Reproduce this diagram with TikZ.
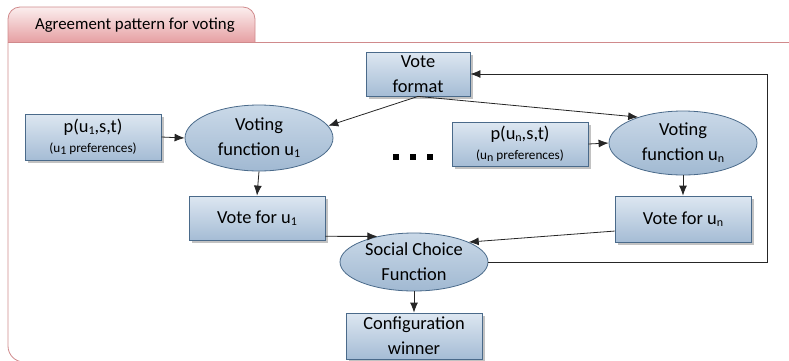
\documentclass[tikz,border=0pt]{standalone}
\usepackage{fontspec}
\setmainfont{Carlito}
\usetikzlibrary{arrows.meta,shadows,shapes.geometric}

\definecolor{frameline}{HTML}{D08A8C}
\definecolor{tabtop}{HTML}{FBEEEE}
\definecolor{tabbot}{HTML}{E6A0A3}
\definecolor{boxtop}{HTML}{DDE7F1}
\definecolor{boxbot}{HTML}{A5BCD5}
\definecolor{boxline}{HTML}{4A6A8A}
\definecolor{ovaltop}{HTML}{CAD9E8}
\definecolor{ovalbot}{HTML}{A1B9D2}

\tikzset{
  box/.style={draw=boxline, top color=boxtop, bottom color=boxbot,
    minimum width=68pt, minimum height=23pt, align=center, inner sep=1pt,
    drop shadow={shadow xshift=1.5pt, shadow yshift=-1.5pt, fill=black!40, opacity=0.6},
    font=\fontsize{9.2}{12.5}\selectfont},
  oval/.style={ellipse, draw=boxline, top color=ovaltop, bottom color=ovalbot,
    minimum width=74pt, minimum height=32pt, align=center, inner sep=0pt,
    font=\fontsize{9.2}{12.5}\selectfont},
  arr/.style={-{Latex[length=5pt,width=4pt]}, thin, black!85},
}

\newcommand{\uu}[1]{u{\fontsize{6}{6}\selectfont\raisebox{-0.35ex}{#1}}}
\newcommand{\pref}[1]{{\fontsize{6.6}{8}\selectfont(#1 preferences)}}

\begin{document}
\begin{tikzpicture}[x=0.5pt,y=-0.5pt]
  \useasboundingbox (0,0) rectangle (789,360);

  % Rahmen mit Reiter
  \path[top color=tabtop, bottom color=tabbot]
    (8,42) [rounded corners=6pt] -- (8,7) -- (255,7) [sharp corners] -- (255,42) -- cycle;
  \draw[frameline, thin, rounded corners=6pt] (8,42) -- (8,7) -- (255,7) -- (255,42);
  \draw[frameline, thin] (8,42) -- (789,42);
  \draw[frameline, thin, rounded corners=8pt] (8,42) -- (8,362) -- (60,362);
  \node[anchor=west, font=\fontsize{8.4}{10}\selectfont] (ttl) at (28,25) {Agreement pattern for voting};

  % Knoten
  \node[box, minimum width=52pt, minimum height=22pt] (vf) at (418,74) {Vote\\format};

  \node[box, font=\fontsize{9.2}{10}\selectfont] (pa) at (93,137) {p(\uu{1},s,t)\\\pref{\uu{1}}};
  \node[oval, minimum height=33pt] (va) at (259,138) {Voting\\function \uu{1}};
  \node[box, minimum height=22pt] (wa) at (257,218) {Vote for \uu{1}};

  \node[box, minimum height=22pt, font=\fontsize{9.2}{10}\selectfont] (pb) at (520,144) {p(\uu{n},s,t)\\\pref{\uu{n}}};
  \node[oval] (vb) at (683,143) {Voting\\function \uu{n}};
  \node[box] (wb) at (683,219) {Vote for \uu{n}};

  \node[oval, minimum height=29pt] (scf) at (414,262) {Social Choice\\Function};
  \node[box] (cw) at (414,336) {Configuration\\winner};

  % Punkte
  \foreach \x in {396,413,430}
    \fill (\x-3,154) rectangle (\x+3,160);

  % Pfeile
  \draw[arr] (pa.east) -- (va.west);
  \draw[arr] (pb.east) -- (vb.west);
  \draw[arr] (vf.south) -- (va.10);
  \draw[arr] (vf.south) -- (vb.150);
  \draw[arr] (va.south) -- (wa.north);
  \draw[arr] (vb.south) -- (wb.north);
  \draw[arr] (wa.-15) -- (scf.145);
  \draw[arr] (wb.190) -- (scf.20);
  \draw[arr] (scf.south) -- (cw.north);

  % Rueckkopplung
  \coordinate (back) at (767,74);
  \draw[arr] (scf.east) -| (back) -- (vf.east);
\end{tikzpicture}
\end{document}
